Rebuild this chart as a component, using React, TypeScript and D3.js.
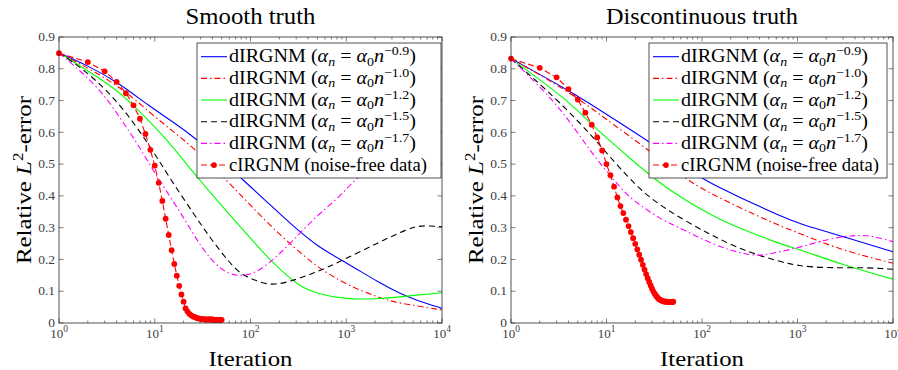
import React from "react";
import * as d3 from "d3";

// ---------- DATA ----------
const xTickExps = [0, 1, 2, 3, 4];
const yTicks = [0, 0.1, 0.2, 0.3, 0.4, 0.5, 0.6, 0.7, 0.8, 0.9];
const panelTitles = ["Smooth truth", "Discontinuous truth"];
const legendExps = ["−0.9", "−1.0", "−1.2", "−1.5", "−1.7"];
const legendLast = "cIRGNM (noise-free data)";

// Smooth truth: [iteration, relative error]
const smoothA09: [number, number][] = [[1, 0.85], [2, 0.81], [4, 0.76], [9, 0.68], [16, 0.63], [27, 0.58], [50, 0.51], [84, 0.45], [150, 0.38], [258, 0.314], [500, 0.24], [1000, 0.19], [2260, 0.125], [3600, 0.094], [5000, 0.075], [10000, 0.046]];
const smoothA10: [number, number][] = [[1, 0.85], [4, 0.755], [9, 0.66], [16, 0.6], [27, 0.544], [56, 0.45], [100, 0.37], [202, 0.277], [400, 0.2], [530, 0.172], [1000, 0.12], [2260, 0.078], [3600, 0.062], [10000, 0.041]];
const smoothA12: [number, number][] = [[1, 0.85], [3.7, 0.744], [6.2, 0.681], [12.8, 0.586], [30, 0.445], [78, 0.303], [148, 0.209], [200, 0.17], [330, 0.114], [500, 0.092], [930, 0.076], [2000, 0.074], [5000, 0.087], [10000, 0.095]];
const smoothA15: [number, number][] = [[1, 0.85], [2, 0.79], [4.5, 0.685], [9, 0.555], [14.4, 0.455], [26, 0.34], [38, 0.267], [61, 0.188], [78, 0.156], [99, 0.141], [135, 0.125], [175, 0.12], [258, 0.13], [455, 0.156], [860, 0.193], [2260, 0.256], [4300, 0.295], [5900, 0.308], [10000, 0.303]];
const smoothA17: [number, number][] = [[1, 0.85], [2.6, 0.744], [4.5, 0.639], [7.3, 0.544], [10, 0.47], [20, 0.334], [30, 0.24], [48, 0.167], [70, 0.147], [107, 0.151], [172, 0.198], [258, 0.25], [500, 0.34], [860, 0.397], [1290, 0.46], [2000, 0.49], [4000, 0.52], [8000, 0.512], [10000, 0.5]];
const smoothC: number[] = [0.849, 0.821, 0.792, 0.759, 0.723, 0.685, 0.643, 0.595, 0.545, 0.495, 0.441, 0.384, 0.328, 0.277, 0.229, 0.186, 0.149, 0.117, 0.09, 0.067, 0.046, 0.036, 0.029, 0.024, 0.021, 0.019, 0.017, 0.015, 0.014, 0.013, 0.012, 0.012, 0.011, 0.011, 0.011, 0.011, 0.011, 0.011, 0.011, 0.011, 0.01, 0.01, 0.01, 0.01, 0.01, 0.01, 0.01, 0.01, 0.01, 0.01];

// Discontinuous truth
const discA09: [number, number][] = [[1, 0.832], [4, 0.733], [11, 0.649], [28, 0.571], [75, 0.481], [112, 0.445], [250, 0.395], [656, 0.337], [1000, 0.314], [3000, 0.272], [10000, 0.224]];
const discA10: [number, number][] = [[1, 0.832], [4, 0.73], [10, 0.64], [28, 0.544], [66, 0.45], [195, 0.377], [656, 0.305], [1000, 0.285], [2800, 0.23], [10000, 0.188]];
const discA12: [number, number][] = [[1, 0.832], [4, 0.7], [6.7, 0.628], [17.6, 0.518], [39, 0.429], [131, 0.334], [250, 0.298], [656, 0.248], [1060, 0.232], [2800, 0.185], [10000, 0.138]];
const discA15: [number, number][] = [[1, 0.832], [4.9, 0.649], [17.6, 0.445], [39, 0.361], [131, 0.272], [294, 0.224], [656, 0.193], [1000, 0.18], [2000, 0.173], [5000, 0.175], [10000, 0.169]];
const discA17: [number, number][] = [[1, 0.832], [3.3, 0.681], [6.7, 0.539], [13.8, 0.429], [17.6, 0.392], [39, 0.322], [50, 0.31], [131, 0.245], [294, 0.214], [440, 0.212], [656, 0.225], [980, 0.235], [2200, 0.267], [4200, 0.277], [6200, 0.274], [10000, 0.256]];
const discC: number[] = [0.832, 0.803, 0.773, 0.736, 0.703, 0.662, 0.624, 0.584, 0.543, 0.5, 0.465, 0.429, 0.395, 0.368, 0.346, 0.325, 0.305, 0.286, 0.267, 0.249, 0.232, 0.215, 0.199, 0.183, 0.168, 0.154, 0.141, 0.129, 0.118, 0.108, 0.099, 0.092, 0.086, 0.081, 0.077, 0.074, 0.072, 0.07, 0.069, 0.068, 0.067, 0.067, 0.067, 0.066, 0.066, 0.066, 0.066, 0.066, 0.066, 0.067];

// ---------- STYLE ----------
const W = 898, H = 370;
const FONT = "Liberation Serif";
const AX = "#262626";
const seriesStyles = [
  { color: "#0000ff", dash: undefined as string | undefined },
  { color: "#ff0000", dash: "6,3,1.5,3" },
  { color: "#00ff00", dash: undefined },
  { color: "#000000", dash: "6,4" },
  { color: "#ff00ff", dash: "6,3,1.5,3" },
];

type PanelProps = {
  x0: number; x1: number; title: string; titleLen: number;
  series: [number, number][][]; cvals: number[];
  legendX: number; legendW: number;
};

function Panel({ x0, x1, title, titleLen, series, cvals, legendX, legendW }: PanelProps) {
  const yTop = 37, yBot = 323;
  const x = d3.scaleLog().domain([1, 1e4]).range([x0, x1]);
  const y = d3.scaleLinear().domain([0, 0.9]).range([yBot, yTop]);
  const line = d3.line<[number, number]>().x(d => x(d[0])).y(d => y(d[1])).curve(d3.curveBasis);
  const cdata: [number, number][] = cvals.map((v, i) => [i + 1, v]);
  const cline = d3.line<[number, number]>().x(d => x(d[0])).y(d => y(d[1]));
  const minor: number[] = [];
  for (let e = 0; e < 4; e++) for (let k = 2; k <= 9; k++) minor.push(k * Math.pow(10, e));
  const cx = (x0 + x1) / 2;
  const cy = (yTop + yBot) / 2;
  const rowH = 21.67;
  const ly = 43;
  const ff = { fontFamily: FONT };
  return (
    <g>
      <text x={cx} y={23.5} textAnchor="middle" style={ff} fontSize={23} fill="#000" textLength={titleLen} lengthAdjust="spacingAndGlyphs">{title}</text>
      {minor.map((m, i) => (
        <g key={"mn" + i}>
          <line x1={x(m)} x2={x(m)} y1={yBot} y2={yBot - 2.5} stroke={AX} strokeWidth={0.6} />
          <line x1={x(m)} x2={x(m)} y1={yTop} y2={yTop + 2.5} stroke={AX} strokeWidth={0.6} />
        </g>
      ))}
      {xTickExps.map(e => {
        const v = Math.pow(10, e);
        return (
          <g key={"xt" + e}>
            <line x1={x(v)} x2={x(v)} y1={yBot} y2={yBot - 4.5} stroke={AX} strokeWidth={0.6} />
            <line x1={x(v)} x2={x(v)} y1={yTop} y2={yTop + 4.5} stroke={AX} strokeWidth={0.6} />
            <text x={x(v)} y={338} textAnchor="middle" style={ff} fontSize={13} fill="#404040">
              <tspan>10</tspan>
              <tspan dy={-6} fontSize={9.5}>{String(e)}</tspan>
            </text>
          </g>
        );
      })}
      {yTicks.map(t => (
        <g key={"yt" + t}>
          <line x1={x0} x2={x0 + 4.5} y1={y(t)} y2={y(t)} stroke={AX} strokeWidth={0.6} />
          <line x1={x1} x2={x1 - 4.5} y1={y(t)} y2={y(t)} stroke={AX} strokeWidth={0.6} />
          <text x={x0 - 4} y={y(t) + 4.2} textAnchor="end" style={ff} fontSize={13.5} fill="#404040">{t === 0 ? "0" : t.toFixed(1)}</text>
        </g>
      ))}
      {series.map((s, i) => (
        <path key={"s" + i} d={line(s) || ""} fill="none" stroke={seriesStyles[i].color}
          strokeWidth={1.1} strokeDasharray={seriesStyles[i].dash} />
      ))}
      <path d={cline(cdata) || ""} fill="none" stroke="#ff0000" strokeWidth={1.1} strokeDasharray="6,3" />
      {cdata.map((d, i) => (
        <circle key={"c" + i} cx={x(d[0])} cy={y(d[1])} r={2.9} fill="#ff0000" />
      ))}
      <rect x={x0} y={yTop} width={x1 - x0} height={yBot - yTop} fill="none" stroke={AX} strokeWidth={0.8} />
      <text x={cx} y={366} textAnchor="middle" style={ff} fontSize={22} fill="#000" textLength={84} lengthAdjust="spacingAndGlyphs">Iteration</text>
      <text transform={`translate(${x0 - 28},${cy}) rotate(-90)`} textAnchor="middle" style={ff} fontSize={22} fill="#000" textLength={168} lengthAdjust="spacingAndGlyphs">
        <tspan>Relative </tspan>
        <tspan fontStyle="italic">L</tspan>
        <tspan dy={-8} fontSize={15}>2</tspan>
        <tspan dy={8}>-error</tspan>
      </text>
      <rect x={legendX} y={ly} width={legendW} height={135} fill="#fff" stroke={AX} strokeWidth={0.8} />
      {legendExps.map((ex, i) => {
        const ry = ly + 13.7 + i * rowH;
        return (
          <g key={"lg" + i}>
            <line x1={legendX + 4} x2={legendX + 30} y1={ry} y2={ry} stroke={seriesStyles[i].color} strokeWidth={1.1} strokeDasharray={seriesStyles[i].dash} />
            <text x={legendX + 32} y={ry + 5.5} style={ff} fontSize={18} fill="#000" textLength={187} lengthAdjust="spacingAndGlyphs">
              <tspan>{"dIRGNM ("}</tspan>
              <tspan fontStyle="italic">α</tspan>
              <tspan dy={3.5} fontSize={12.5} fontStyle="italic">n</tspan>
              <tspan dy={-3.5}>{" = "}</tspan>
              <tspan fontStyle="italic">α</tspan>
              <tspan dy={3.5} fontSize={12.5}>0</tspan>
              <tspan dy={-3.5} fontStyle="italic">n</tspan>
              <tspan dy={-7} fontSize={12.5}>{ex}</tspan>
              <tspan dy={7}>{")"}</tspan>
            </text>
          </g>
        );
      })}
      {(() => {
        const ry = ly + 13.7 + 5 * rowH;
        return (
          <g>
            <line x1={legendX + 4} x2={legendX + 30} y1={ry} y2={ry} stroke="#ff0000" strokeWidth={1.1} strokeDasharray="6,3" />
            <circle cx={legendX + 17} cy={ry} r={2.9} fill="#ff0000" />
            <text x={legendX + 32} y={ry + 5.5} style={ff} fontSize={18} fill="#000" textLength={198} lengthAdjust="spacingAndGlyphs">{legendLast}</text>
          </g>
        );
      })()}
    </g>
  );
}

export default function App() {
  return (
    <svg width={W} height={H} style={{ position: "absolute", left: 0, top: 0, background: "#fff" }}>
      <rect x={0} y={0} width={W} height={H} fill="#fff" />
      <Panel x0={59} x1={442} title={panelTitles[0]} titleLen={130} series={[smoothA09, smoothA10, smoothA12, smoothA15, smoothA17]} cvals={smoothC} legendX={197} legendW={244} />
      <Panel x0={511} x1={893} title={panelTitles[1]} titleLen={192} series={[discA09, discA10, discA12, discA15, discA17]} cvals={discC} legendX={649} legendW={238} />
    </svg>
  );
}
